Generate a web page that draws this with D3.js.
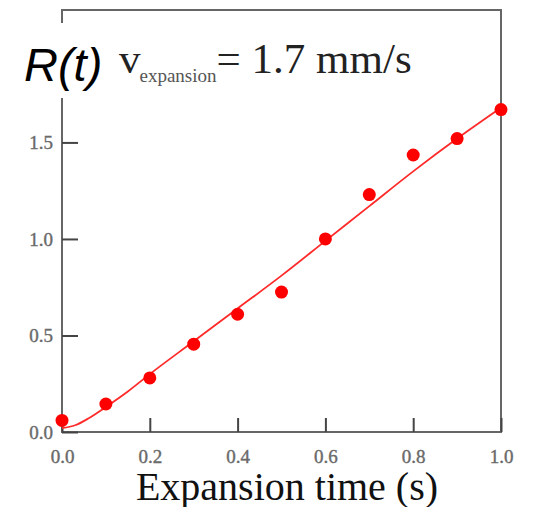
<!DOCTYPE html>
<html>
<head>
<meta charset="utf-8">
<script src="https://cdn.jsdelivr.net/npm/d3@7"></script>
<style>
  body { margin: 0; background: #fff; }
</style>
</head>
<body>
<svg width="536" height="507"></svg>
<script>
// dati
const times = [0.0, 0.1, 0.2, 0.3, 0.4, 0.5, 0.6, 0.7, 0.8, 0.9, 1.0];
const radii = [0.06, 0.145, 0.28, 0.455, 0.61, 0.725, 1.0, 1.23, 1.435, 1.52, 1.67];
// curva di fit
const fitT = [0.0, 0.03, 0.06, 0.1, 0.15, 0.2, 0.3, 0.4, 0.5, 0.6, 0.7, 0.8, 0.9, 1.0];
const fitR = [0.02, 0.035, 0.07, 0.13, 0.21, 0.3, 0.47, 0.64, 0.81, 0.99, 1.17, 1.35, 1.52, 1.68];
const xTicks = [0, 0.2, 0.4, 0.6, 0.8, 1.0];
const yTicks = [0, 0.5, 1.0, 1.5];

const svg = d3.select("svg");

const x = d3.scaleLinear().domain([0, 1]).range([62, 501]);
const y = d3.scaleLinear().domain([0, 2.186]).range([432, 10]);

const axisColor = "#666";
const labelColor = "#6a6a6a";
const serif = "'Liberation Serif', 'Times New Roman', serif";

// cornice
svg.append("rect")
  .attr("x", x(0)).attr("y", y(2.186))
  .attr("width", x(1) - x(0)).attr("height", y(0) - y(2.186))
  .attr("fill", "none").attr("stroke", axisColor).attr("stroke-width", 2);

// asse x (tick verso l'interno)
const xAxis = svg.append("g")
  .attr("transform", `translate(0, ${y(0)})`)
  .call(d3.axisBottom(x).tickValues(xTicks).tickSize(-14).tickPadding(18).tickFormat(d3.format(".1f")));
xAxis.select(".domain").remove();
xAxis.selectAll("line").attr("stroke", "#444").attr("stroke-width", 2);
xAxis.selectAll("text")
  .attr("font-family", serif)
  .attr("font-size", 19).attr("fill", labelColor)
  .attr("stroke", labelColor).attr("stroke-width", 0.4);

// asse y
const yAxis = svg.append("g")
  .attr("transform", `translate(${x(0)}, 0)`)
  .call(d3.axisLeft(y).tickValues(yTicks).tickSize(-16).tickPadding(9).tickFormat(d3.format(".1f")));
yAxis.select(".domain").remove();
yAxis.selectAll("line").attr("stroke", "#444").attr("stroke-width", 2);
yAxis.selectAll("text")
  .attr("font-family", serif)
  .attr("font-size", 19).attr("fill", labelColor)
  .attr("stroke", labelColor).attr("stroke-width", 0.4);

// linea di fit
const line = d3.line().x(d => x(d[0])).y(d => y(d[1])).curve(d3.curveMonotoneX);
svg.append("path")
  .datum(fitT.map((t, i) => [t, fitR[i]]))
  .attr("d", line)
  .attr("fill", "none").attr("stroke", "#ff2a2a").attr("stroke-width", 1.8);

// punti
svg.selectAll(".dot")
  .data(times.map((t, i) => ({ t, r: radii[i] })))
  .join("circle")
  .attr("class", "dot")
  .attr("cx", d => x(d.t))
  .attr("cy", d => y(d.r))
  .attr("r", 6.5)
  .attr("fill", "#ff0000");

// titolo con sfondo bianco
svg.append("rect")
  .attr("x", 20).attr("y", 23).attr("width", 85).attr("height", 75).attr("fill", "#fff");
svg.append("text")
  .attr("x", 24).attr("y", 81)
  .attr("font-family", "'Liberation Sans', Arial, sans-serif")
  .attr("font-style", "italic").attr("font-size", 47).attr("fill", "#000")
  .text("R(t)");

const vText = svg.append("text")
  .attr("x", 119).attr("y", 73)
  .attr("font-family", serif)
  .attr("font-size", 43).attr("fill", "#222");
vText.append("tspan").text("v");
vText.append("tspan").attr("dy", 9).attr("dx", -1).attr("font-size", 19).attr("fill", "#555").text("expansion");
vText.append("tspan").attr("dy", -9).text("= 1.7 mm/s");

// etichetta asse x
svg.append("text")
  .attr("x", 287).attr("y", 500)
  .attr("text-anchor", "middle")
  .attr("font-family", serif)
  .attr("font-size", 40).attr("fill", "#111")
  .text("Expansion time (s)");
</script>
</body>
</html>
